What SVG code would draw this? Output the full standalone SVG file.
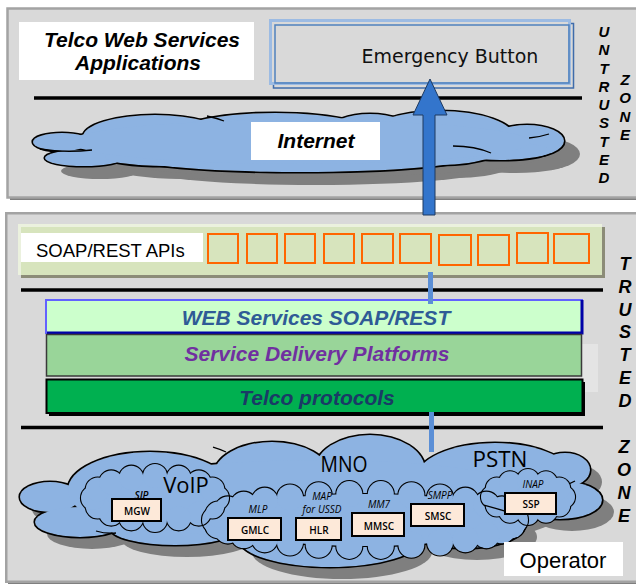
<svg xmlns="http://www.w3.org/2000/svg" width="636" height="585" viewBox="0 0 636 585">
<style>
  .panel{fill:#d9d9d9;stroke:#a3a3a3;stroke-width:2.5}
  .pshadow{fill:#7f7f7f}
  .rule{stroke:#000;stroke-width:3.5}
  .bi{font-family:"Liberation Sans",Arial,sans-serif;font-weight:bold;font-style:italic}
  .sans{font-family:"Liberation Sans",Arial,sans-serif}
  .zone{font-family:"Liberation Sans",Arial,sans-serif;font-weight:bold;font-style:italic;text-anchor:middle;fill:#000}
  .api{fill:none;stroke:#ff6600;stroke-width:2}
  .cloud{fill:#8db3e2}
  .shadow{fill:#7f7f7f}
  .edge{fill:none;stroke:#000;stroke-width:1.3}
  .box{fill:#fde9d9;stroke:#000;stroke-width:2}
  .boxt{font-family:"Open Sans","DejaVu Sans",sans-serif;font-size:10px;font-weight:600;text-anchor:middle}
  .proto{font-family:"Open Sans","DejaVu Sans",sans-serif;font-size:10px;font-style:italic;text-anchor:middle}
  .big{font-family:"Open Sans","DejaVu Sans",sans-serif;text-anchor:middle}
  .link{fill:#5b8fd6}
</style>
<defs>
  <!-- cloud silhouettes built from overlapping lobes -->
  <g id="inetShape">
    <ellipse cx="62" cy="142" rx="29" ry="9"/>
    <ellipse cx="84" cy="158" rx="39" ry="8"/>
    <ellipse cx="155" cy="137" rx="72" ry="22"/>
    <ellipse cx="275" cy="140" rx="110" ry="27"/>
    <ellipse cx="370" cy="130" rx="40" ry="16"/>
    <ellipse cx="440" cy="138" rx="75" ry="27"/>
    <ellipse cx="527" cy="141" rx="37" ry="16"/>
    <ellipse cx="500" cy="151" rx="50" ry="9"/>
    <ellipse cx="300" cy="157" rx="170" ry="15"/>
    <ellipse cx="165" cy="157" rx="60" ry="9"/>
    <ellipse cx="300" cy="142" rx="230" ry="22"/>
  </g>
  <g id="mnoShape">
    <ellipse cx="50" cy="497" rx="30" ry="15"/>
    <ellipse cx="80" cy="522" rx="45" ry="15"/>
    <ellipse cx="150" cy="490" rx="82" ry="38"/>
    <ellipse cx="175" cy="528" rx="65" ry="17"/>
    <ellipse cx="272" cy="475" rx="58" ry="33"/>
    <ellipse cx="370" cy="470" rx="55" ry="35"/>
    <ellipse cx="495" cy="480" rx="80" ry="37"/>
    <ellipse cx="565" cy="470" rx="25" ry="17"/>
    <ellipse cx="560" cy="500" rx="42" ry="19"/>
    <ellipse cx="330" cy="540" rx="90" ry="27"/>
    <ellipse cx="465" cy="525" rx="60" ry="23"/>
    <ellipse cx="320" cy="500" rx="230" ry="40"/>
  </g>
  <g id="voipShape">
    <ellipse cx="155" cy="498" rx="62" ry="22"/>
    <circle cx="217" cy="498" r="12"/><circle cx="212.3" cy="506.4" r="12"/>
    <circle cx="198.8" cy="513.6" r="12"/><circle cx="178.7" cy="518.3" r="12"/>
    <circle cx="155" cy="520" r="12"/><circle cx="131.3" cy="518.3" r="12"/>
    <circle cx="111.2" cy="513.6" r="12"/><circle cx="97.7" cy="506.4" r="12"/>
    <circle cx="93" cy="498" r="12"/><circle cx="97.7" cy="489.6" r="12"/>
    <circle cx="111.2" cy="482.4" r="12"/><circle cx="131.3" cy="477.7" r="12"/>
    <circle cx="155" cy="476" r="12"/><circle cx="178.7" cy="477.7" r="12"/>
    <circle cx="198.8" cy="482.4" r="12"/><circle cx="212.3" cy="489.6" r="12"/>
  </g>
  <g id="coreShape">
    <ellipse cx="365" cy="520" rx="150" ry="26"/>
    <circle cx="515" cy="520" r="13"/><circle cx="511.7" cy="525.4" r="13"/>
    <circle cx="502.1" cy="530.6" r="13"/><circle cx="486.4" cy="535.3" r="13"/>
    <circle cx="465.4" cy="539.3" r="13"/><circle cx="440" cy="542.5" r="13"/>
    <circle cx="411.4" cy="544.7" r="13"/><circle cx="380.8" cy="545.9" r="13"/>
    <circle cx="349.3" cy="545.9" r="13"/><circle cx="318.7" cy="544.7" r="13"/>
    <circle cx="290" cy="542.5" r="13"/><circle cx="264.7" cy="539.3" r="13"/>
    <circle cx="243.7" cy="535.3" r="13"/><circle cx="227.9" cy="530.6" r="13"/>
    <circle cx="218.3" cy="525.4" r="13"/><circle cx="215" cy="520" r="13"/>
    <circle cx="218.3" cy="514.6" r="13"/><circle cx="227.9" cy="509.4" r="13"/>
    <circle cx="243.7" cy="504.7" r="13"/><circle cx="264.7" cy="500.7" r="13"/>
    <circle cx="290" cy="497.5" r="13"/><circle cx="318.7" cy="495.3" r="13"/>
    <circle cx="349.3" cy="494.1" r="13"/><circle cx="380.8" cy="494.1" r="13"/>
    <circle cx="411.4" cy="495.3" r="13"/><circle cx="440" cy="497.5" r="13"/>
    <circle cx="465.4" cy="500.7" r="13"/><circle cx="486.4" cy="504.7" r="13"/>
    <circle cx="502.1" cy="509.4" r="13"/><circle cx="511.7" cy="514.6" r="13"/>
  </g>
  <g id="pstnShape">
    <ellipse cx="528" cy="497" rx="36" ry="17"/>
    <circle cx="564" cy="497" r="11"/><circle cx="559.2" cy="505.5" r="11"/>
    <circle cx="546" cy="511.7" r="11"/><circle cx="528" cy="514" r="11"/>
    <circle cx="510" cy="511.7" r="11"/><circle cx="496.8" cy="505.5" r="11"/>
    <circle cx="492" cy="497" r="11"/><circle cx="496.8" cy="488.5" r="11"/>
    <circle cx="510" cy="482.3" r="11"/><circle cx="528" cy="480" r="11"/>
    <circle cx="546" cy="482.3" r="11"/><circle cx="559.2" cy="488.5" r="11"/>
  </g>
  <!-- masks keep only the outer half of each stroked silhouette -->
  <mask id="inetOut" maskUnits="userSpaceOnUse" x="0" y="0" width="636" height="585">
    <rect width="636" height="585" fill="#fff"/><use href="#inetShape" fill="#000"/>
  </mask>
  <mask id="mnoOut" maskUnits="userSpaceOnUse" x="0" y="0" width="636" height="585">
    <rect width="636" height="585" fill="#fff"/><use href="#mnoShape" fill="#000"/>
  </mask>
  <mask id="voipOut" maskUnits="userSpaceOnUse" x="0" y="0" width="636" height="585">
    <rect width="636" height="585" fill="#fff"/><use href="#voipShape" fill="#000"/>
  </mask>
  <mask id="coreOut" maskUnits="userSpaceOnUse" x="0" y="0" width="636" height="585">
    <rect width="636" height="585" fill="#fff"/><use href="#coreShape" fill="#000"/>
  </mask>
  <mask id="pstnOut" maskUnits="userSpaceOnUse" x="0" y="0" width="636" height="585">
    <rect width="636" height="585" fill="#fff"/><use href="#pstnShape" fill="#000"/>
  </mask>
</defs>

<rect width="636" height="585" fill="#fff"/>

<!-- upper (untrusted) panel -->
<g id="untrusted-panel">
  <rect x="10" y="11" width="630" height="189" class="pshadow"/>
  <rect x="7.5" y="8.5" width="630" height="189" class="panel"/>
  <line x1="34" y1="98" x2="582" y2="98" class="rule"/>
</g>

<g id="telco-apps">
  <rect x="19" y="22" width="235" height="58" fill="#fff"/>
  <text class="bi" font-size="21" text-anchor="middle"><tspan x="142" y="47">Telco Web Services</tspan><tspan x="138" y="70">Applications</tspan></text>
</g>

<g id="emergency-button">
  <rect x="273.5" y="23.5" width="300" height="64.5" fill="none" stroke="#3f6cab" stroke-width="1.5"/>
  <rect x="270.5" y="20.5" width="299" height="63" fill="#d9d9d9" stroke="#9cbbe3" stroke-width="3"/>
  <rect x="275" y="25" width="294" height="58" fill="none" stroke="#4f81bd" stroke-width="1.5"/>
  <text x="450" y="63" font-family="'DejaVu Sans',Verdana,sans-serif" font-size="19" text-anchor="middle" fill="#111">Emergency Button</text>
</g>

<g id="internet">
  <use href="#inetShape" class="shadow" transform="translate(16,13)"/>
  <use href="#inetShape" class="cloud"/>
  <use href="#inetShape" fill="none" stroke="#000" stroke-width="3.2" mask="url(#inetOut)"/>
  <path class="edge" d="M40 149 Q65 153 92 150 M207 116 Q216 118 224 121 M453 146 Q475 146 491 153 M529 138 Q540 137 549 134"/>
  <rect x="251" y="122" width="129" height="38" fill="#fff"/>
  <text x="316" y="148" class="bi" font-size="21" text-anchor="middle">Internet</text>
</g>

<g id="untrusted-label">
  <text class="zone" font-size="15"><tspan x="604" y="37">U</tspan><tspan x="604" y="55.3">N</tspan><tspan x="604" y="73.5">T</tspan><tspan x="604" y="91.8">R</tspan><tspan x="604" y="110">U</tspan><tspan x="604" y="128.3">S</tspan><tspan x="604" y="146.5">T</tspan><tspan x="604" y="164.8">E</tspan><tspan x="604" y="183">D</tspan></text>
  <text class="zone" font-size="15"><tspan x="625" y="85">Z</tspan><tspan x="625" y="103.3">O</tspan><tspan x="625" y="121.7">N</tspan><tspan x="625" y="140">E</tspan></text>
</g>

<!-- lower (trusted) panel -->
<g id="trusted-panel">
  <rect x="8" y="215" width="634" height="369" class="pshadow"/>
  <rect x="6.25" y="213.25" width="634" height="368.5" class="panel"/>
  <line x1="21" y1="290" x2="603" y2="290" class="rule"/>
  <line x1="21" y1="427.5" x2="603" y2="427.5" class="rule"/>
  <rect x="582" y="344" width="16" height="48" fill="#e4e4e4"/>
</g>

<g id="soap-rest-apis">
  <rect x="21" y="227" width="584" height="51" fill="#8c8c78"/>
  <rect x="18" y="224" width="584" height="51" fill="#d7e4bd"/>
  <path d="M19.5 275 V225.5 H602" fill="none" stroke="#ebf1de" stroke-width="3"/>
  <rect x="21" y="233" width="182" height="29" fill="#fff"/>
  <text x="36" y="257" class="sans" font-size="18.5">SOAP/REST APIs</text>
  <rect x="208" y="234" width="30" height="29" class="api"/>
  <rect x="247" y="234" width="30" height="29" class="api"/>
  <rect x="285" y="234" width="30" height="29" class="api"/>
  <rect x="324" y="234" width="30" height="29" class="api"/>
  <rect x="362" y="234" width="31" height="29" class="api"/>
  <rect x="400" y="234" width="31" height="29" class="api"/>
  <rect x="439" y="235" width="32" height="30" class="api"/>
  <rect x="478" y="235" width="31" height="30" class="api"/>
  <rect x="517" y="233" width="31" height="30" class="api"/>
  <rect x="554" y="234" width="35" height="29" class="api"/>
</g>

<g id="web-services">
  <rect x="46" y="300" width="536" height="33" fill="#ccffcc" stroke="#6262ff" stroke-width="2"/>
  <path d="M47 333 H582 V300" fill="none" stroke="#0000a8" stroke-width="3"/>
  <text x="316" y="325" class="bi" font-size="21" text-anchor="middle" fill="#2f5b96">WEB Services SOAP/REST</text>
</g>

<g id="service-delivery">
  <rect x="46.5" y="334.5" width="535" height="41.5" fill="#99d599" stroke="#3a3a3a" stroke-width="1.5"/>
  <text x="317" y="361" class="bi" font-size="21" text-anchor="middle" fill="#7030a0">Service Delivery Platforms</text>
</g>

<g id="telco-protocols">
  <rect x="49" y="382" width="536" height="34" fill="#000"/>
  <rect x="46.5" y="379.5" width="536" height="33.5" fill="#00b050" stroke="#000" stroke-width="2"/>
  <text x="317" y="405" class="bi" font-size="21" text-anchor="middle" fill="#1a3a66">Telco protocols</text>
</g>

<g id="trusted-label">
  <text class="zone" font-size="18"><tspan x="625" y="270">T</tspan><tspan x="625" y="293">R</tspan><tspan x="625" y="316">U</tspan><tspan x="625" y="338">S</tspan><tspan x="625" y="361">T</tspan><tspan x="625" y="384">E</tspan><tspan x="625" y="407">D</tspan></text>
  <text class="zone" font-size="18"><tspan x="624" y="453">Z</tspan><tspan x="624" y="476">O</tspan><tspan x="624" y="499">N</tspan><tspan x="624" y="522">E</tspan></text>
</g>

<g id="mno-cloud">
  <use href="#mnoShape" class="shadow" transform="translate(12,12)"/>
  <use href="#mnoShape" class="cloud"/>
  <use href="#mnoShape" fill="none" stroke="#000" stroke-width="3.2" mask="url(#mnoOut)"/>
  <path class="edge" d="M96 531 Q106 534 116 533 M213 447 Q220 449 226 452 M548 487 Q565 487 575 481"/>
  <text x="344" y="472" class="big" font-size="21" textLength="47" lengthAdjust="spacingAndGlyphs">MNO</text>
  <text x="500" y="467" class="big" font-size="21" textLength="55" lengthAdjust="spacingAndGlyphs">PSTN</text>
</g>

<!-- inner protocol clouds: fills first, then outlines so crossings stay visible -->
<g id="voip">
  <use href="#voipShape" class="cloud"/>
</g>
<g id="mno-core">
  <use href="#coreShape" class="cloud"/>
</g>
<g id="pstn-ssp">
  <use href="#pstnShape" class="cloud"/>
</g>
<g id="inner-cloud-outlines">
  <use href="#voipShape" fill="none" stroke="#000" stroke-width="2.2" mask="url(#voipOut)"/>
  <use href="#coreShape" fill="none" stroke="#000" stroke-width="2.2" mask="url(#coreOut)"/>
  <use href="#pstnShape" fill="none" stroke="#000" stroke-width="2.2" mask="url(#pstnOut)"/>
</g>

<g id="voip-labels">
  <text x="186" y="493" class="big" font-size="22">VoIP</text>
  <text x="141.5" y="499" class="proto" font-style="normal" font-weight="600">SIP</text>
  <rect x="112" y="499" width="49" height="22" class="box"/>
  <text x="137" y="515" class="boxt">MGW</text>
</g>

<g id="gmlc">
  <text x="258" y="513" class="proto">MLP</text>
  <rect x="228" y="518" width="53" height="22" class="box"/>
  <text x="255" y="534" class="boxt">GMLC</text>
</g>
<g id="hlr">
  <text x="322" y="500" class="proto" font-size="9.5">MAP</text>
  <text x="322" y="513" class="proto" font-size="9.5">for USSD</text>
  <rect x="296" y="518" width="45" height="22" class="box"/>
  <text x="319" y="534" class="boxt">HLR</text>
</g>
<g id="mmsc">
  <text x="379" y="508" class="proto">MM7</text>
  <rect x="352" y="513" width="52" height="23" class="box"/>
  <text x="379" y="530" class="boxt">MMSC</text>
</g>
<g id="smsc">
  <text x="440" y="499" class="proto">SMPP</text>
  <rect x="411" y="504" width="53" height="22" class="box"/>
  <text x="438" y="520" class="boxt">SMSC</text>
</g>
<g id="ssp">
  <text x="533" y="488" class="proto">INAP</text>
  <rect x="505" y="493" width="51" height="21" class="box"/>
  <text x="531" y="508" class="boxt">SSP</text>
</g>

<g id="operator">
  <rect x="504" y="542" width="119" height="34" fill="#fff"/>
  <text x="563" y="568" class="sans" font-size="22" text-anchor="middle">Operator</text>
</g>

<g id="connectors">
  <path d="M484 505 L505 511" class="edge"/>
  <rect x="428" y="272" width="5" height="32" class="link"/>
  <rect x="429" y="412" width="5" height="40" class="link"/>
  <polygon points="423,215 423,115 413,115 430,79 447,115 435,115 435,215" fill="#3375cc" stroke="#1f3a60" stroke-width="1"/>
</g>
</svg>
